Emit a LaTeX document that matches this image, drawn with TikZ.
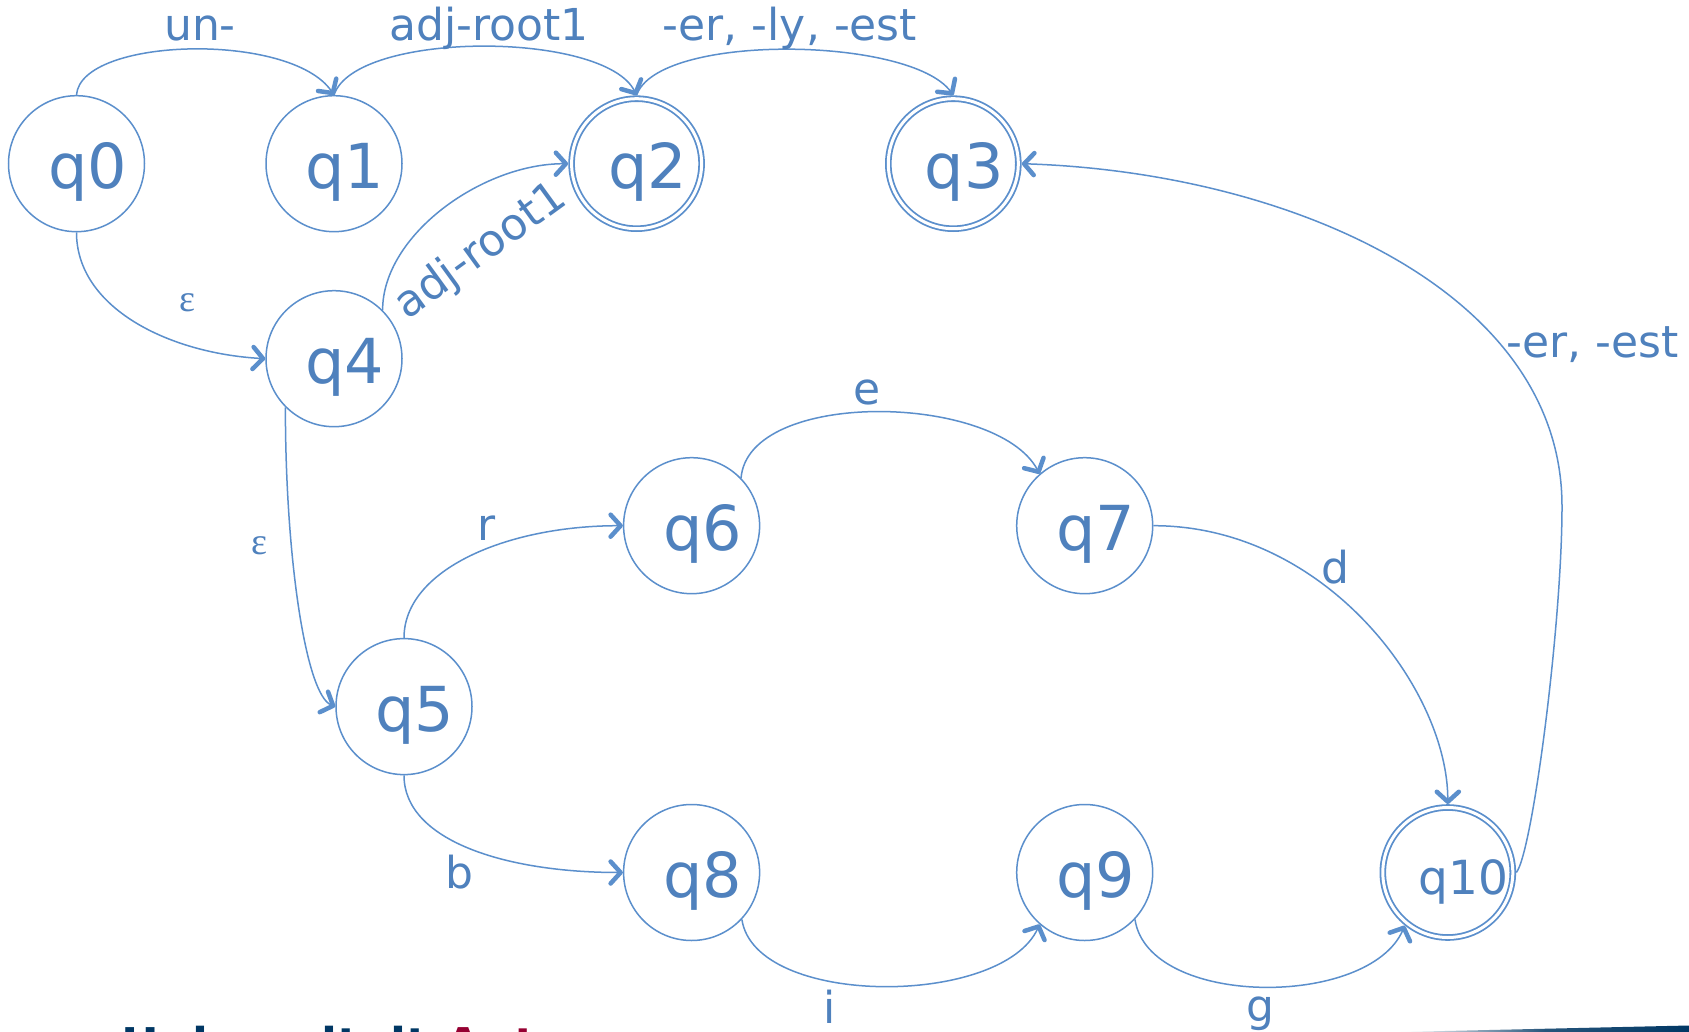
\documentclass[tikz,border=0pt]{standalone}
\usepackage{fontspec}
\setmainfont{DejaVu Sans}
\newfontfamily\epsfont{Liberation Serif}
\usetikzlibrary{arrows.meta,calc}
\definecolor{txtc}{RGB}{79,129,189}
\definecolor{linec}{RGB}{91,143,204}
\definecolor{uablue}{RGB}{0,55,100}
\definecolor{uared}{RGB}{150,0,50}
\begin{document}
\begin{tikzpicture}[x=1pt,y=-1pt,
  stnode/.style={circle,draw=linec,line width=1.5pt,minimum size=136pt,inner sep=0pt},
  accnode/.style={circle,draw=linec,line width=1.8pt,double=white,double distance=3pt,minimum size=130pt,inner sep=0pt,outer sep=3.5pt},
  qlab/.style={text=txtc,font=\fontsize{62}{62}\selectfont,anchor=base,inner sep=0pt},
  elab/.style={text=txtc,font=\fontsize{44}{44}\selectfont,anchor=base,inner sep=0pt},
  epslab/.style={text=txtc,font=\epsfont\fontsize{38}{38}\selectfont,anchor=base,inner sep=0pt},
  trans/.style={draw=linec,line width=1.5pt,-{Straight Barb[length=10pt,width=22pt,line width=4.5pt,round]}}
]
\useasboundingbox (0,0) rectangle (1689,1032);
\clip (0,0) rectangle (1689,1032);
\fill[white] (0,0) rectangle (1689,1032);

% states
\node[stnode] (q0) at (76.5,163.7) {};
\node[stnode] (q1) at (334,163.7) {};
\node[accnode] (q2) at (636.6,163.7) {};
\node[accnode] (q3) at (953.3,163.7) {};
\node[stnode] (q4) at (334,358.7) {};
\node[stnode] (q5) at (404,706.6) {};
\node[stnode] (q6) at (691.6,525.7) {};
\node[stnode] (q7) at (1084.7,525.7) {};
\node[stnode] (q8) at (691.6,872.5) {};
\node[stnode] (q9) at (1084.7,872.5) {};
\node[accnode] (q10) at (1447.8,872.5) {};

\node[qlab] (t0) at ($(q0.center)+(11,25)$) {q0};
\node[qlab] (t1) at ($(q1.center)+(11,25)$) {q1};
\node[qlab] (t2) at ($(q2.center)+(11,25)$) {q2};
\node[qlab] (t3) at ($(q3.center)+(11,25)$) {q3};
\node[qlab] (t4) at ($(q4.center)+(11,25)$) {q4};
\node[qlab] (t5) at ($(q5.center)+(11,25)$) {q5};
\node[qlab] (t6) at ($(q6.center)+(11,25)$) {q6};
\node[qlab] (t7) at ($(q7.center)+(11,25)$) {q7};
\node[qlab] (t8) at ($(q8.center)+(11,25)$) {q8};
\node[qlab] (t9) at ($(q9.center)+(11,25)$) {q9};
\node[qlab,font=\fontsize{47}{47}\selectfont] (t10) at ($(q10.center)+(16,21.5)$) {q10};

% transitions
\draw[trans] (q0.90) .. controls +(4.3,-58) and +(-43,-63.5) .. (q1.90);
\draw[trans] (q1.90) .. controls +(21.5,-64.6) and +(-32,-64.6) .. (q2.90);
\draw[trans] (q2.90) .. controls +(21.5,-62.5) and +(-43,-59) .. (q3.90);
\draw[trans] (q0.270) .. controls +(0,75) and +(-97,-5.4) .. (q4.180);
\draw[trans] (q4.45) .. controls +(0,-75) and +(-86,0) .. (q2.180);
\coordinate (r1) at (1562,506.3);
\draw[trans] (q10.0) .. controls +(16,-19.4) and +(0,118.5) .. (r1) .. controls +(0,-215.4) and +(267,8.6) .. (q3.0);
\draw[trans] (q4.225) .. controls +(0,153) and +(-29,-11.8) .. (q5.180);
\draw[trans] (q5.90) .. controls +(0,-68) and +(-116.5,0) .. (q6.180);
\draw[trans] (q5.270) .. controls +(0,65.6) and +(-116.5,0) .. (q8.180);
\draw[trans] (q6.44) .. controls +(7.5,-89.4) and +(-43,-80.8) .. (q7.131);
\draw[trans] (q7.0) .. controls +(172,0) and +(0,-114) .. (q10.90);
\draw[trans] (q8.317) .. controls +(13,88.3) and +(-37.7,83) .. (q9.229);
\draw[trans] (q9.317) .. controls +(13,88.3) and +(-35.5,83) .. (q10.231);

% labels
\node[elab] (lun) at (200,41) {un-};
\node[elab] (ladj) at (489,41) {adj-root1};
\node[elab] (lerly) at (790,41) {-er, -ly, -est};
\node[epslab] (leps1) at (187.4,311.3) {ε};
\node[epslab] (leps2) at (259.6,554.8) {ε};
\node[elab,anchor=center,rotate=36] (ladj2) at (481,252) {adj-root1};
\node[elab] (lerest) at (1592.6,357.6) {-er, -est};
\node[elab] (le) at (867,404) {e};
\node[elab] (lr) at (487,540.7) {r};
\node[elab] (ld) at (1335.7,583.8) {d};
\node[elab] (lb) at (459,888.7) {b};
\node[elab] (li) at (829.4,1023.3) {i};
\node[elab] (lg) at (1260,1021) {g};

% footer
\node[anchor=base west,inner sep=0pt,font=\bfseries\fontsize{46.5}{46.5}\selectfont,text=uablue] (ua) at (121.7,1061) {Universiteit \textcolor{uared}{Antwerpen}};
\shade[left color=white,right color=uablue,middle color=uablue!85] (1400,1032) -- (1689,1025.5) -- (1689,1032) -- cycle;
\end{tikzpicture}
\end{document}
